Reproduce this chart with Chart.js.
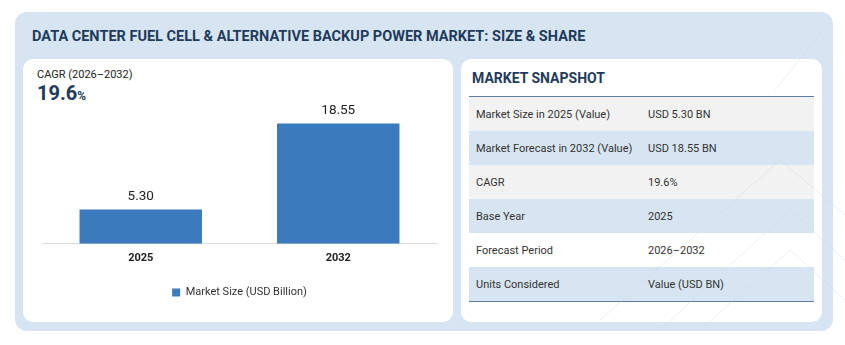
<!DOCTYPE html>
<html>
<head>
<meta charset="utf-8">
<script src="https://cdn.jsdelivr.net/npm/chart.js@4.4.1/dist/chart.umd.min.js"></script>
<style>
  html,body{margin:0;padding:0;background:#fff;width:845px;height:345px;overflow:hidden;font-family:Roboto,"Noto Sans",sans-serif;}
  .panel{position:absolute;left:15px;top:12px;width:818px;height:319px;background:#d7e5f2;border-radius:12px;}
  .title{position:absolute;left:32px;top:27px;font-weight:700;font-size:15px;color:#1f3b5c;white-space:nowrap;transform-origin:left center;}
  .card{position:absolute;background:#fff;border-radius:10px;top:59px;height:263px;}
  #left{left:23px;width:430px;}
  #right{left:461px;width:361px;}
  .cagr-lbl{position:absolute;left:14px;top:9px;font-size:11px;color:#222;}
  .cagr-val{position:absolute;left:14px;top:22px;font-size:20px;font-weight:700;color:#1f3b5c;}
  .cagr-val small{font-size:12px;font-weight:700;}
  #chartWrap{position:absolute;left:0;top:40px;width:430px;height:220px;}
  .snap-title{position:absolute;left:11px;top:11px;font-size:14px;font-weight:700;color:#1f3b5c;}
  table{position:absolute;left:8px;top:37px;width:345px;border-collapse:collapse;border-top:1.5px solid #5d7e9e;border-bottom:1.5px solid #5d7e9e;}
  td{height:34px;padding:0;font-size:11px;color:#333;}
  td:first-child{padding-left:7px;width:172px;}
  tr.g td{background:#f2f2f2;}
  tr.b td{background:#d7e5f2;}
  tr.w td{background:#fff;}
  svg.deco{position:absolute;left:0;top:0;pointer-events:none;}
</style>
</head>
<body>
<div class="panel"></div>
<div class="title" id="title">DATA CENTER FUEL CELL &amp; ALTERNATIVE BACKUP POWER MARKET: SIZE &amp; SHARE</div>
<div class="card" id="left">
  <div class="cagr-lbl">CAGR (2026–2032)</div>
  <div class="cagr-val">19.6<small>%</small></div>
  <div id="chartWrap"><canvas id="c"></canvas></div>
</div>
<div class="card" id="right">
  <div class="snap-title">MARKET SNAPSHOT</div>
  <table id="snap"></table>
</div>
<svg class="deco" width="845" height="345">
  <g stroke="#c9d3dc" stroke-width="0.8" fill="none" opacity="0.45">
    <polyline points="700,330 790,250 845,300"/>
    <polyline points="660,330 790,210 845,260"/>
    <polyline points="600,320 780,160 845,215"/>
    <line x1="825" y1="28" x2="775" y2="90"/>
  </g>
</svg>
<script>
const years   = ['2025', '2032'];
const values  = [5.30, 18.55];
const seriesName = 'Market Size (USD Billion)';
const snapLabels = ['Market Size in 2025 (Value)', 'Market Forecast in 2032 (Value)', 'CAGR', 'Base Year', 'Forecast Period', 'Units Considered'];
const snapValues = ['USD 5.30 BN', 'USD 18.55 BN', '19.6%', '2025', '2026–2032', 'Value (USD BN)'];
const rowClass   = ['g', 'b', 'g', 'b', 'w', 'b'];

// fit title to width of reference
const t = document.getElementById('title');
t.style.transform = `scaleX(${553 / t.offsetWidth})`;

document.getElementById('snap').innerHTML = snapLabels.map((l, i) =>
  `<tr class="${rowClass[i]}"><td>${l}</td><td>${snapValues[i]}</td></tr>`).join('');

const BAR = '#3b7bbd';

const valueLabels = {
  id: 'valueLabels',
  afterDatasetsDraw(chart) {
    const ctx = chart.ctx;
    const meta = chart.getDatasetMeta(0);
    ctx.save();
    ctx.font = '13.5px Roboto, sans-serif';
    ctx.fillStyle = '#222';
    ctx.textAlign = 'center';
    ctx.textBaseline = 'middle';
    meta.data.forEach((bar, i) => {
      ctx.fillText(values[i].toFixed(2), bar.x, bar.y - 13);
    });
    ctx.restore();
  }
};

new Chart(document.getElementById('c'), {
  type: 'bar',
  data: {
    labels: years,
    datasets: [{ label: seriesName, data: values, backgroundColor: BAR, barPercentage: 0.62, categoryPercentage: 1 }]
  },
  options: {
    responsive: true, maintainAspectRatio: false, animation: false,
    layout: { padding: { left: 19, right: 16, top: 15, bottom: 11 } },
    plugins: {
      legend: { position: 'bottom', labels: { boxWidth: 8, boxHeight: 8, padding: 14, color: '#333', font: { family: 'Roboto', size: 11 } } },
      tooltip: { enabled: false }
    },
    scales: {
      x: {
        grid: { display: false, drawTicks: false },
        border: { color: '#dcdcdc' },
        ticks: { padding: 8, color: '#222', font: { family: 'Roboto', size: 11, weight: 'bold' } }
      },
      y: { display: false, min: 0, max: 20 }
    }
  },
  plugins: [valueLabels]
});
</script>
</body>
</html>
